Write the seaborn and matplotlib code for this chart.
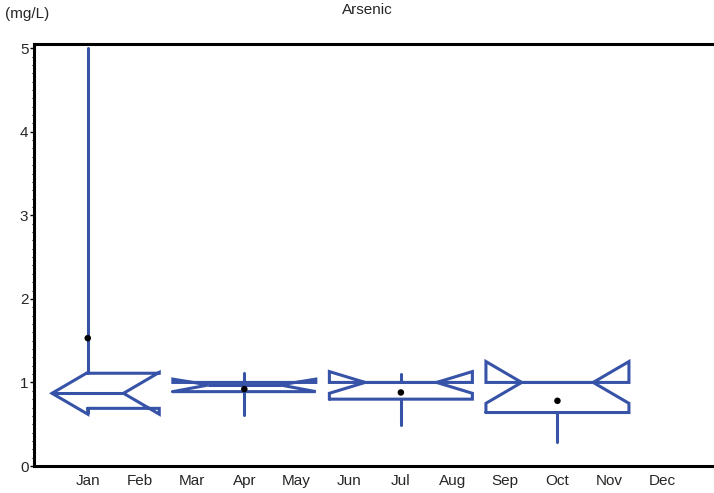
# Arsenic monthly notched box chart (quarterly boxes)
import matplotlib
matplotlib.use('Agg')
import matplotlib.pyplot as plt
from matplotlib.ticker import MultipleLocator
import seaborn as sns

sns.set_style('ticks')
plt.rcParams['font.family'] = ['Liberation Sans', 'DejaVu Sans']

months = ['Jan', 'Feb', 'Mar', 'Apr', 'May', 'Jun',
          'Jul', 'Aug', 'Sep', 'Oct', 'Nov', 'Dec']

# one box per quarter, drawn at the quarter's first month
box_months = ['Jan', 'Apr', 'Jul', 'Oct']
q1 = [0.69, 0.89, 0.80, 0.64]
median = [0.87, 0.97, 1.00, 1.00]
q3 = [1.11, 1.00, 1.00, 1.00]
notch_lo = [0.62, 0.89, 0.87, 0.75]
notch_hi = [1.12, 1.04, 1.13, 1.25]
whisk_lo = [0.64, 0.61, 0.49, 0.29]
whisk_hi = [5.00, 1.11, 1.10, 1.00]
means = [1.53, 0.92, 0.88, 0.78]

box_width = 2.74
blue = '#3753a7'
lw = 2.2

fig = plt.figure(figsize=(7.14, 4.93), dpi=100)
ax = fig.add_axes([34 / 714, 1 - 466 / 493, 1 - 34 / 714, (466 - 44) / 493])

month_pos = {m: i + 1 for i, m in enumerate(months)}
x_first, x_last = 1, len(months)

for m, a, md, b, nl, nh, wl, wh in zip(box_months, q1, median, q3,
                                       notch_lo, notch_hi, whisk_lo, whisk_hi):
    p = month_pos[m]
    # box edges are clipped to the month range
    left = max(p - box_width / 2, x_first)
    right = min(p + box_width / 2, x_last)
    cap_l = p - box_width / 4
    cap_r = p + box_width / 4
    xs = [left, left, cap_l, left, left, right, right, cap_r, right, right, left]
    ys = [a, nl, md, nh, b, b, nh, md, nl, a, a]
    ax.plot(xs, ys, color=blue, lw=lw, solid_joinstyle='miter', zorder=3)
    ax.plot([cap_l, cap_r], [md, md], color=blue, lw=lw, zorder=3)
    ax.plot([p, p], [b, wh], color=blue, lw=lw, zorder=3)
    ax.plot([p, p], [a, wl], color=blue, lw=lw, zorder=3)

sns.scatterplot(x=[month_pos[m] for m in box_months], y=means, color='black',
                s=22, edgecolor='none', zorder=5, ax=ax, legend=False)

ax.set_xlim(-0.03, 13.0)
ax.set_ylim(0, 5.05)
ax.set_xticks(range(1, 13))
ax.set_xticklabels(months, fontsize=11)
ax.set_yticks(range(0, 6))
ax.set_yticklabels([str(v) for v in range(0, 6)], fontsize=11)
ax.yaxis.set_minor_locator(MultipleLocator(0.1))
ax.tick_params(axis='x', length=0, pad=6)
ax.tick_params(axis='y', which='major', length=3, width=1, pad=1, color='black')
ax.tick_params(axis='y', which='minor', length=1.5, width=0.8, color='black')

for side in ['left', 'bottom', 'top']:
    ax.spines[side].set_linewidth(2.2)
    ax.spines[side].set_color('black')
ax.spines['right'].set_visible(False)

fig.text(367 / 714, 1 - 10 / 493, 'Arsenic', ha='center', va='center', fontsize=11)
fig.text(5 / 714, 1 - 14 / 493, '(mg/L)', ha='left', va='center', fontsize=11)

fig.savefig('out.png', dpi=100)
